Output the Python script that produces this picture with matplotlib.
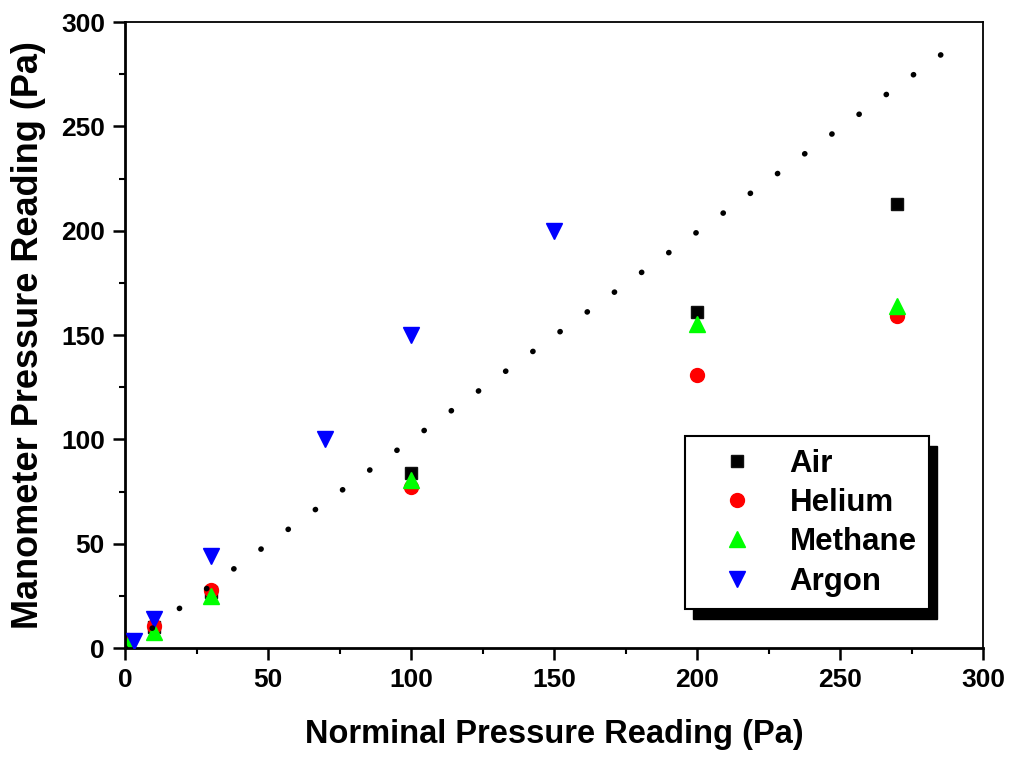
import numpy as np
import matplotlib
matplotlib.use("Agg")
import matplotlib.pyplot as plt
from matplotlib.patches import Rectangle
from matplotlib.transforms import IdentityTransform

plt.rcParams['font.family'] = ['Liberation Sans', 'DejaVu Sans']
plt.rcParams['font.weight'] = 'bold'

# data
air_x = [1, 10, 30, 100, 200, 270]
air_y = [1, 10, 27, 84, 161, 213]
helium_x = [1, 10, 30, 100, 200, 270]
helium_y = [4, 10.5, 28, 77, 131, 159]
methane_x = [1, 10, 30, 100, 200, 270]
methane_y = [1.5, 7.5, 25, 80.5, 155.5, 164]
argon_x = [3, 10, 30, 70, 100, 150]
argon_y = [3.5, 14, 44, 100, 150, 200]
ref_x = [0, 286]
ref_y = [0, 285]

fig = plt.figure(figsize=(10.14, 7.58), dpi=100)
ax = fig.add_axes([125 / 1014, 110 / 758, 858 / 1014, 626 / 758])

# dotted reference line (round dots)
ax.plot(ref_x, ref_y, color='black', lw=4.0, linestyle=(0, (0.05, 6.0)),
        dash_capstyle='round', zorder=3)

ax.plot(air_x, air_y, 's', color='black', mfc='black', mec='#111111',
        ms=8, ls='none', label='Air', zorder=2)
ax.plot(helium_x, helium_y, 'o', color='red', mec='red', ms=10,
        ls='none', label='Helium', zorder=2.2)
ax.plot(methane_x, methane_y, '^', color='#00ff00', mec='#00ff00', ms=11.5,
        ls='none', label='Methane', zorder=2.4)
ax.plot(argon_x, argon_y, 'v', color='blue', mec='blue', ms=11.5,
        ls='none', label='Argon', zorder=2.6)

ax.set_xlim(0, 300)
ax.set_ylim(0, 300)
ax.set_xticks(np.arange(0, 301, 50))
ax.set_yticks(np.arange(0, 301, 50))
ax.set_xticks(np.arange(25, 300, 50), minor=True)
ax.set_yticks(np.arange(25, 300, 50), minor=True)
ax.tick_params(which='major', direction='out', length=8.5, width=1.8,
               labelsize=19, pad=6, top=False, right=False)
ax.tick_params(which='minor', direction='out', length=4.5, width=1.5,
               top=False, right=False)
for lab in ax.get_xticklabels() + ax.get_yticklabels():
    lab.set_fontweight('bold')

ax.spines['left'].set_linewidth(2.0)
ax.spines['bottom'].set_linewidth(2.0)
ax.spines['top'].set_linewidth(1.3)
ax.spines['right'].set_linewidth(1.3)

ax.set_xlabel('Norminal Pressure Reading (Pa)', fontsize=23.5,
              fontweight='bold', labelpad=19)
ax.set_ylabel('Manometer Pressure Reading (Pa)', fontsize=26,
              fontweight='bold', labelpad=11)

leg = ax.legend(loc='upper left', bbox_to_anchor=((685 - 125) / 858, (648 - 436) / 626),
                borderaxespad=0, prop={'size': 22.5, 'weight': 'bold'},
                frameon=True, fancybox=False, framealpha=1,
                handlelength=2.55, handletextpad=0.4, borderpad=0.4,
                labelspacing=0.3)
leg.get_frame().set_edgecolor('black')
leg.get_frame().set_linewidth(1.5)
leg.set_zorder(6)

# shadow behind the legend box
fig.canvas.draw()
bb = leg.get_window_extent()
shadow = Rectangle((bb.x0 + 8, bb.y0 - 10), bb.width, bb.height,
                   transform=IdentityTransform(), facecolor='black',
                   edgecolor='black', zorder=5.5, clip_on=False)
ax.add_artist(shadow)

fig.savefig('out.png', dpi=100)
